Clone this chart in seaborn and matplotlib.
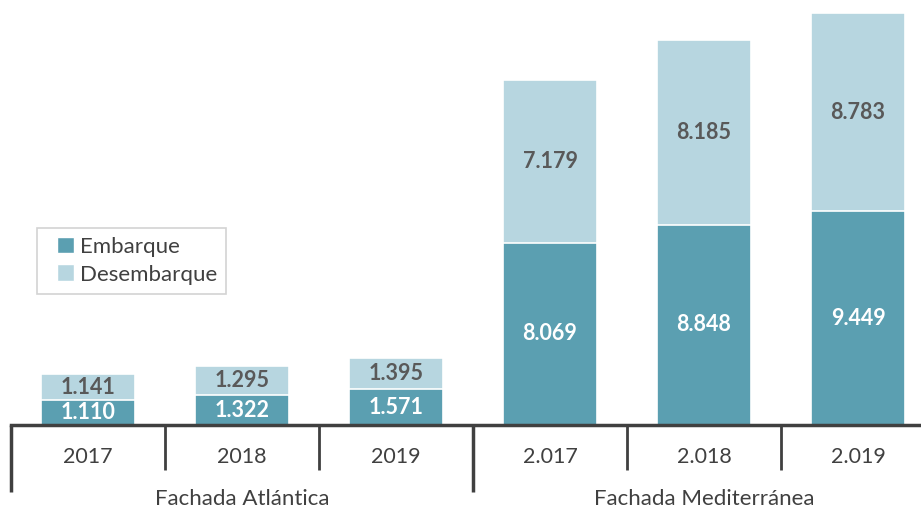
import numpy as np
import pandas as pd
import matplotlib
matplotlib.use("Agg")
import matplotlib.pyplot as plt
import seaborn as sns
from matplotlib.patches import Patch, Rectangle
from matplotlib.legend_handler import HandlerPatch

# data (thousands of units)
categorias = ["2017", "2018", "2019", "2.017", "2.018", "2.019"]
embarque = [1110, 1322, 1571, 8069, 8848, 9449]
desembarque = [1141, 1295, 1395, 7179, 8185, 8783]
grupos = ["Fachada Atlántica", "Fachada Mediterránea"]
etiq_emb = ["1.110", "1.322", "1.571", "8.069", "8.848", "9.449"]
etiq_des = ["1.141", "1.295", "1.395", "7.179", "8.185", "8.783"]

c_emb = "#5b9fb1"
c_des = "#b7d6e0"
gris = "#595959"

sns.set_theme(style="white")
plt.rcParams["font.family"] = ["Lato", "DejaVu Sans"]

df = pd.DataFrame({"cat": categorias, "emb": embarque, "des": desembarque})
df["total"] = df["emb"] + df["des"]

fig = plt.figure(figsize=(9.21, 5.11), dpi=100)
ax = fig.add_axes([11 / 921, 86 / 511, 910 / 921, 425 / 511])

sns.barplot(data=df, x="cat", y="total", color=c_des, width=0.61,
            edgecolor="white", linewidth=1.2, saturation=1, ax=ax)
sns.barplot(data=df, x="cat", y="emb", color=c_emb, width=0.61,
            edgecolor="white", linewidth=1.2, saturation=1, ax=ax)

ax.set_xlim(-0.5, 910 / 154 - 0.5)
ax.set_ylim(0, 18800)
ax.set_xlabel("")
ax.set_ylabel("")
ax.set_yticks([])
ax.set_xticks([])
for s in ["top", "right", "left"]:
    ax.spines[s].set_visible(False)
ax.spines["bottom"].set_color("#404040")
ax.spines["bottom"].set_linewidth(2.5)

# value labels
for i in range(len(categorias)):
    e, d = embarque[i], desembarque[i]
    ax.text(i, e / 2, etiq_emb[i], ha="center", va="center", color="white",
            fontsize=15.5, fontweight="bold")
    ax.text(i, e + d / 2, etiq_des[i], ha="center", va="center", color=gris,
            fontsize=15.5, fontweight="bold")

# category axis: tick labels, separators, group labels
trans = ax.get_xaxis_transform()
px = 1 / 425
for i, c in enumerate(categorias):
    ax.text(i, -32 * px, c, transform=trans, ha="center", va="center",
            color="#404040", fontsize=15.5, clip_on=False)
for b in np.arange(-0.5, len(categorias)):
    largo = 67 if b in (-0.5, 2.5) else 45
    ax.plot([b, b], [0, -largo * px], transform=trans, color="#404040",
            lw=2.5 if largo == 67 else 2, clip_on=False, solid_capstyle="butt")
for g, name in enumerate(grupos):
    ax.text(1 + 3 * g, -74 * px, name, transform=trans, ha="center", va="center",
            color="#404040", fontsize=16, clip_on=False)


# small square marker sitting at the right end of the handle box
def cuadro(legend, orig_handle, xdescent, ydescent, width, height, fontsize):
    sq = 12
    return Rectangle((-xdescent + width - sq, -ydescent + (height - sq) / 2),
                     sq, sq)


handles = [Patch(facecolor=c_emb, label="Embarque"),
           Patch(facecolor=c_des, label="Desembarque")]
leg = ax.legend(handles=handles, loc="upper left",
                bbox_to_anchor=(26 / 910, (425 - 228) / 425), frameon=True,
                borderaxespad=0, fontsize=16, handlelength=1.25,
                handleheight=0.6, handletextpad=0.3, borderpad=0.4,
                labelspacing=0.35, fancybox=False, labelcolor="#404040",
                handler_map={Patch: HandlerPatch(patch_func=cuadro)})
leg.get_frame().set_edgecolor("#c8c8c8")
leg.get_frame().set_linewidth(1.2)

fig.savefig("out.png", dpi=100)
